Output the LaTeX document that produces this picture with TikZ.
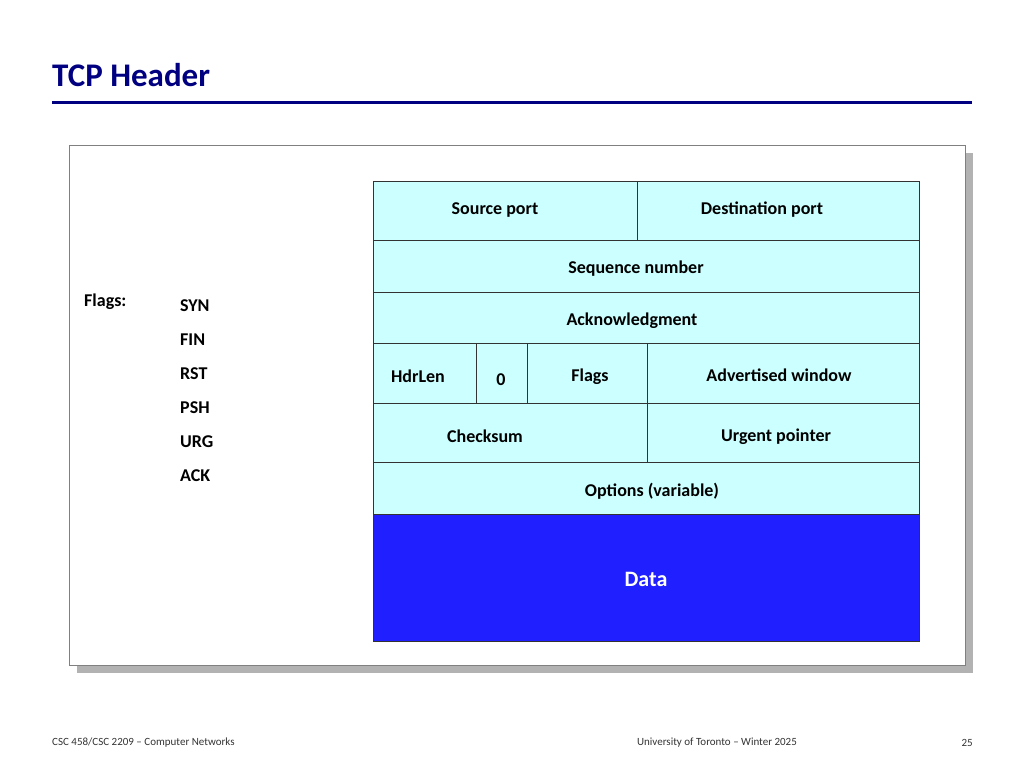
\documentclass[tikz,border=0pt]{standalone}
\usepackage{fontspec}
\setmainfont{Carlito}
\definecolor{navy}{RGB}{0,0,128}
\definecolor{lc}{HTML}{CCFFFF}
\definecolor{db}{RGB}{31,31,255}
\begin{document}
\begin{tikzpicture}[x=1pt,y=-1pt,
  cell/.style={draw=black!80,line width=0.8pt,fill=lc},
  lbl/.style={font=\fontsize{18}{20}\selectfont\bfseries,inner sep=0pt},
  flg/.style={font=\fontsize{18}{20}\selectfont\bfseries,anchor=west,inner sep=0pt},
  foot/.style={font=\fontsize{11}{13}\selectfont,text=black!80,inner sep=0pt}]
\useasboundingbox (0,0) rectangle (1024,768);
\node[font=\fontsize{33}{36}\selectfont\bfseries,text=navy,anchor=west,inner sep=0pt] (title) at (52,75) {TCP Header};
\draw[line width=3pt,navy] (52,102) -- (972,102);
\fill[black!30] (77,153) rectangle (973,673);
\draw[black!50,fill=white,line width=0.8pt] (69,145) rectangle (965,665);
\draw[cell] (373,181) rectangle (637,240);
\draw[cell] (637,181) rectangle (919,240);
\draw[cell] (373,240) rectangle (919,292);
\draw[cell] (373,292) rectangle (919,343);
\draw[cell] (373,343) rectangle (476,403);
\draw[cell] (476,343) rectangle (527,403);
\draw[cell] (527,343) rectangle (647,403);
\draw[cell] (647,343) rectangle (919,403);
\draw[cell] (373,403) rectangle (647,462);
\draw[cell] (647,403) rectangle (919,462);
\draw[cell] (373,462) rectangle (919,514);
\draw[draw=black!80,line width=0.8pt,fill=db] (373,514) rectangle (919,641);
\node[lbl] (sp) at (495,210) {Source port};
\node[lbl] (dp) at (762,210) {Destination port};
\node[lbl] (sn) at (636,269) {Sequence number};
\node[lbl] (ack) at (632,321) {Acknowledgment};
\node[lbl] (hl) at (418,376) {HdrLen};
\node[lbl] (z) at (501,380) {0};
\node[lbl] (fl) at (590,377) {Flags};
\node[lbl] (aw) at (779,375) {Advertised window};
\node[lbl] (cs) at (485,436) {Checksum};
\node[lbl] (up) at (776,437) {Urgent pointer};
\node[lbl] (op) at (652,491) {Options (variable)};
\node[lbl,text=white,font=\fontsize{22}{24}\selectfont\bfseries] (data) at (646,579) {Data};
\node[flg] (flags) at (84,302) {Flags:};
\node[flg] (f1) at (180,306) {SYN};
\node[flg] (f2) at (180,340) {FIN};
\node[flg] (f3) at (180,374) {RST};
\node[flg] (f4) at (180,408) {PSH};
\node[flg] (f5) at (180,442) {URG};
\node[flg] (f6) at (180,476) {ACK};
\node[foot,anchor=west] (fa) at (52,743) {CSC 458/CSC 2209 – Computer Networks};
\node[foot] (fb) at (717,743) {University of Toronto – Winter 2025};
\node[foot,anchor=east] (fc) at (973,743) {25};
\end{tikzpicture}
\end{document}
